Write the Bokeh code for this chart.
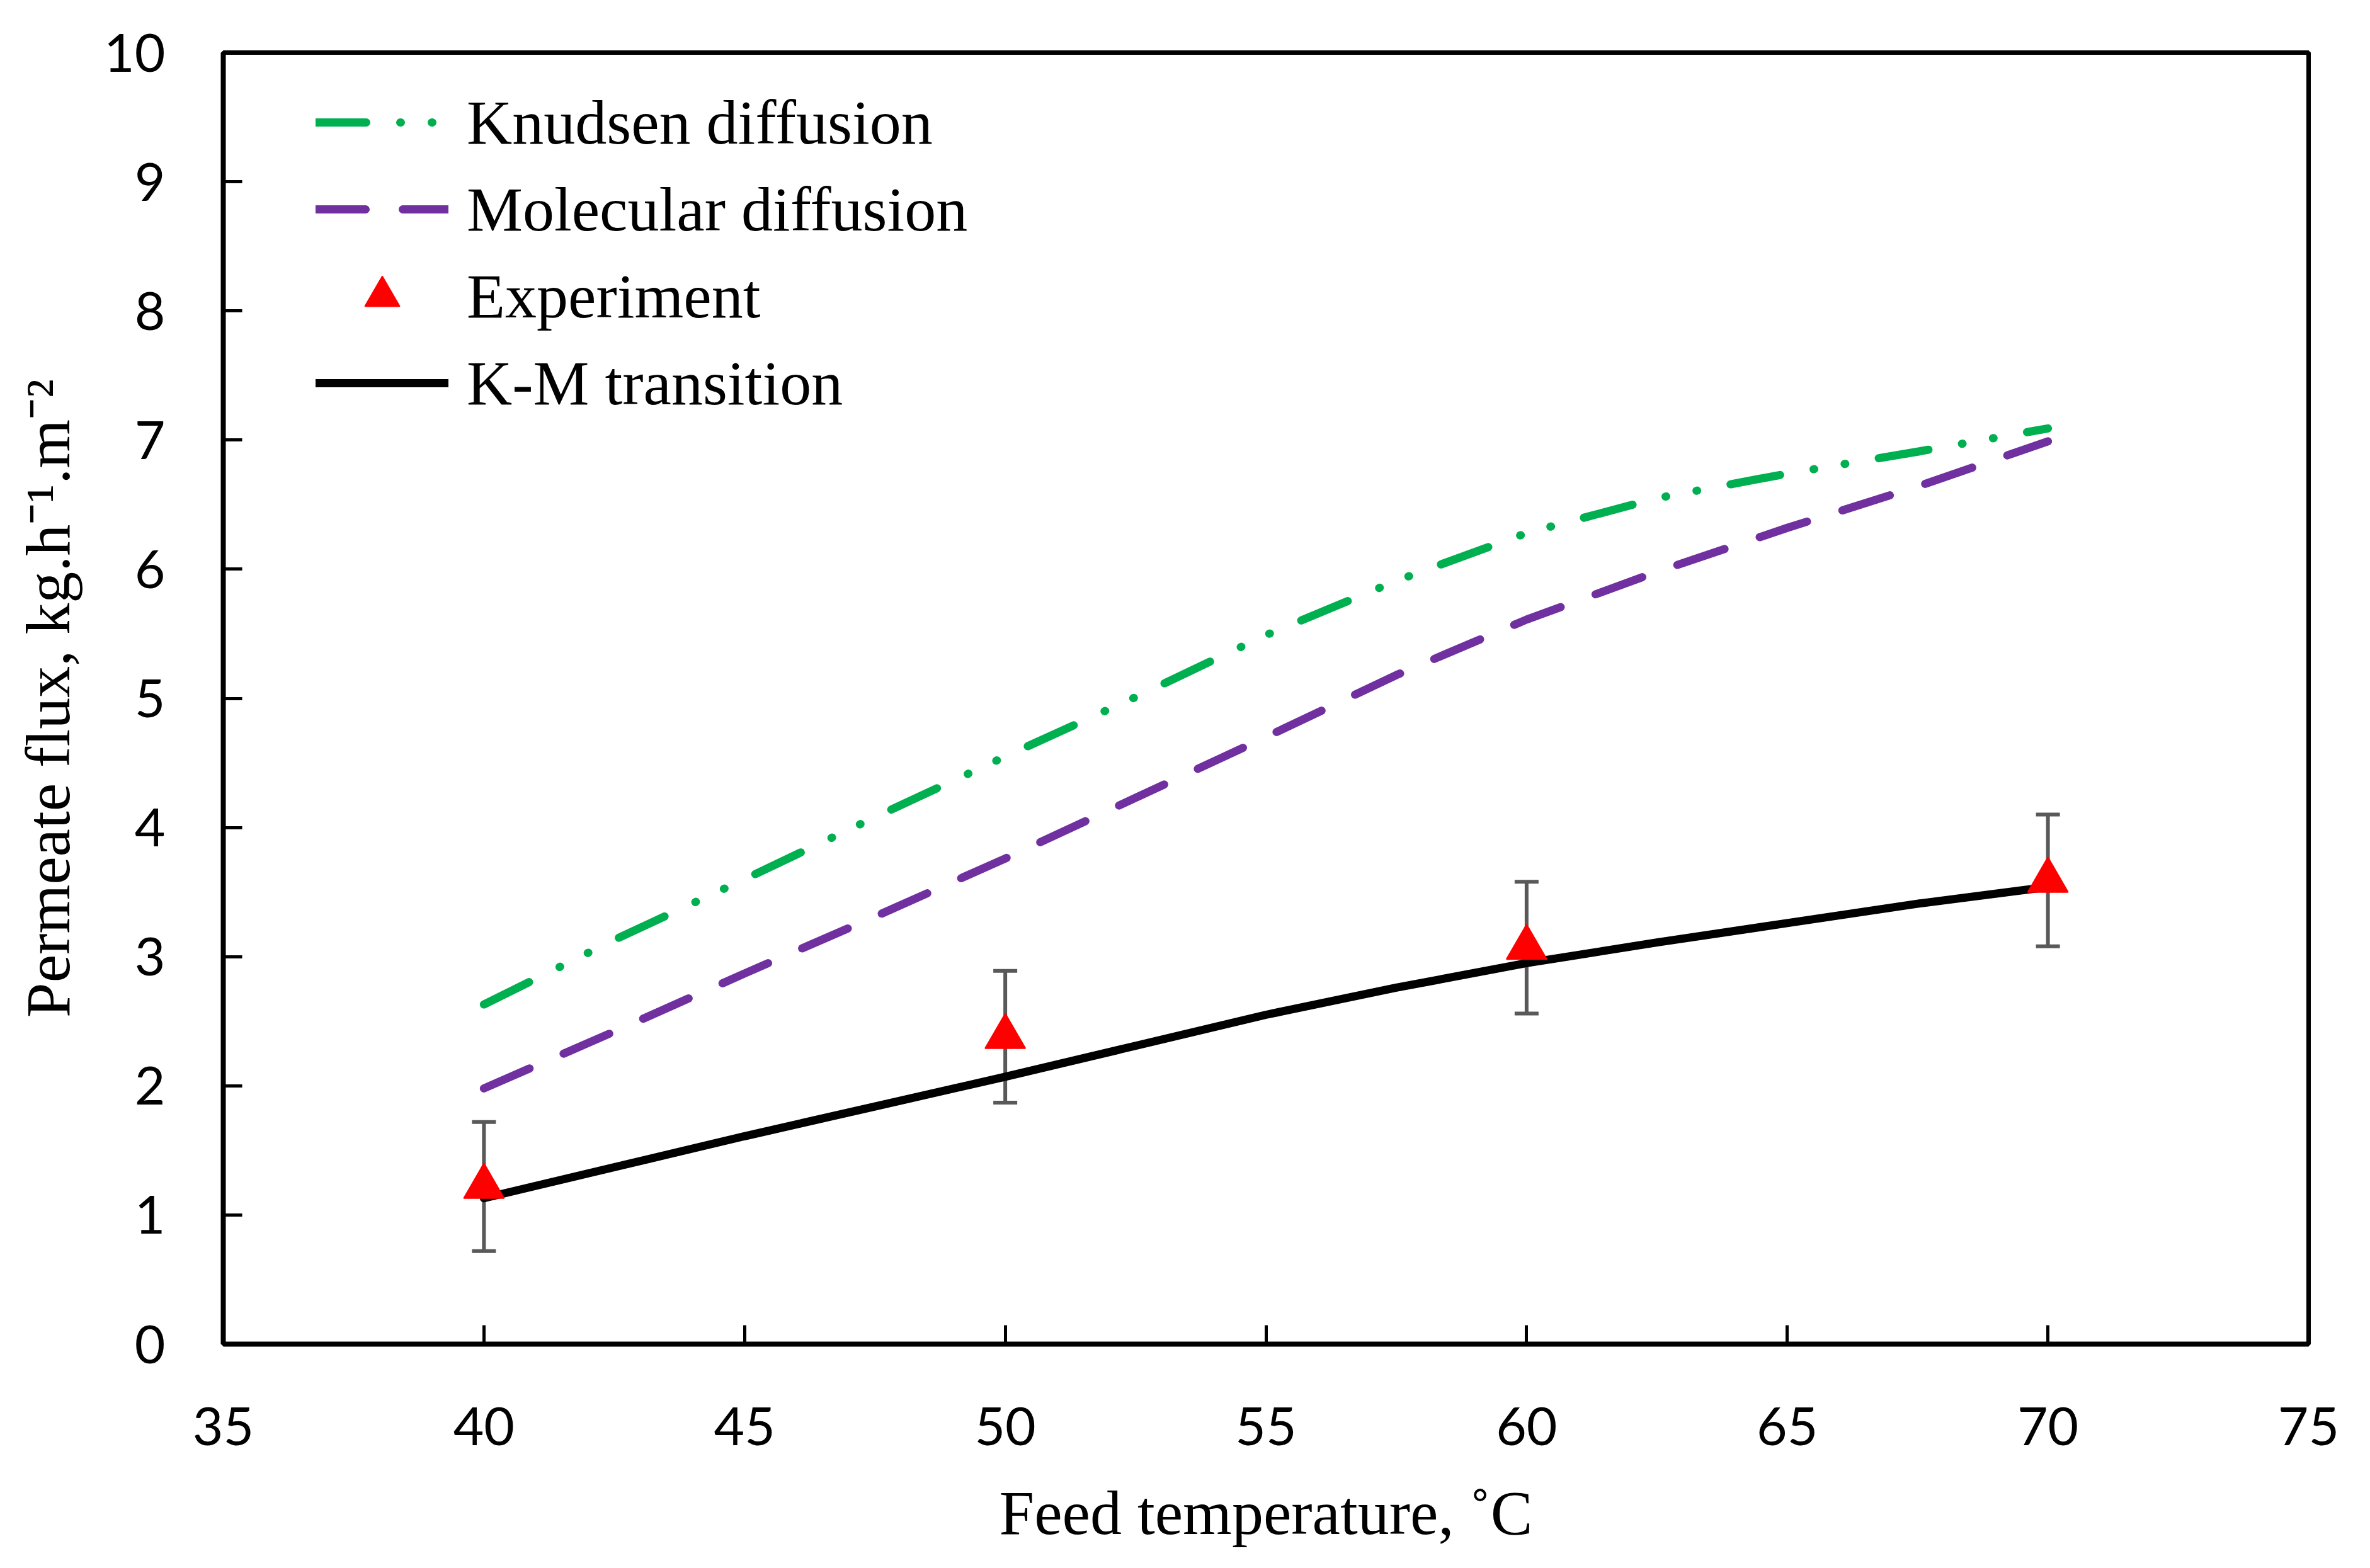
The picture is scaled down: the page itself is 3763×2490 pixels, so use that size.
from bokeh.embed import file_html
from bokeh.models import (ColumnDataSource, FixedTicker, Legend, LegendItem,
                          Range1d, TeeHead, Whisker)
from bokeh.plotting import figure
from bokeh.resources import INLINE

# Feed temperature (deg C) at which the model curves were read
temperature = [40, 42.5, 45, 47.5, 50, 52.5, 55, 57.5, 60, 62.5, 65, 67.5, 70]

knudsen = [2.63, 3.13, 3.60, 4.08, 4.55, 5.01, 5.49, 5.91, 6.28, 6.55, 6.74, 6.91, 7.09]
molecular = [1.98, 2.42, 2.87, 3.31, 3.76, 4.23, 4.70, 5.18, 5.61, 5.98, 6.32, 6.64, 6.99]
km_transition = [1.13, 1.37, 1.61, 1.84, 2.07, 2.31, 2.55, 2.76, 2.95, 3.11, 3.26, 3.41, 3.54]

# Experimental points with error bars
exp_temperature = [40, 50, 60, 70]
exp_flux = [1.22, 2.38, 3.07, 3.59]
exp_error = [0.50, 0.51, 0.51, 0.51]

x_ticks = [35, 40, 45, 50, 55, 60, 65, 70, 75]
y_ticks = [0, 1, 2, 3, 4, 5, 6, 7, 8, 9, 10]

GREEN = '#00B050'
PURPLE = '#7030A0'
RED = '#FF0000'
GREY = '#595959'

SERIF = 'Liberation Serif'
SANS = 'Lato'

p = figure(frame_width=3311, frame_height=2051, min_border_left=354, min_border_right=82,
           min_border_top=83, min_border_bottom=340, x_range=Range1d(35, 75), y_range=Range1d(0, 10),
           output_backend="svg", toolbar_location=None, tools=[])

p.xgrid.visible = False
p.ygrid.visible = False
p.outline_line_color = 'black'
p.outline_line_width = 7
p.background_fill_color = 'white'
p.border_fill_color = 'white'

# Axes -------------------------------------------------------------
for ax in (p.xaxis[0], p.yaxis[0]):
    ax.axis_line_width = 8
    ax.axis_line_color = 'black'
    ax.major_tick_in = 30
    ax.major_tick_out = 0
    ax.major_tick_line_width = 5
    ax.major_tick_line_color = 'black'
    ax.minor_tick_line_color = None
    ax.major_label_text_font = SANS
    ax.major_label_text_font_size = '84px'
    ax.major_label_text_color = 'black'
    ax.axis_label_text_font = SERIF
    ax.axis_label_text_font_size = '100px'
    ax.axis_label_text_font_style = 'normal'
    ax.axis_label_text_color = 'black'

p.xaxis.ticker = FixedTicker(ticks=x_ticks)
p.yaxis.ticker = FixedTicker(ticks=y_ticks)
p.xaxis.major_label_standoff = 100
p.yaxis.major_label_standoff = 92
p.xaxis.axis_label = 'Feed temperature, \u02daC'
p.yaxis.axis_label = 'Permeate flux, kg.h\u207b\u00b9.m\u207b\u00b2'
p.xaxis.axis_label_standoff = 49
p.yaxis.axis_label_standoff = 30

# Error bars -------------------------------------------------------
err_src = ColumnDataSource(data=dict(
    x=exp_temperature,
    upper=[f + e for f, e in zip(exp_flux, exp_error)],
    lower=[f - e for f, e in zip(exp_flux, exp_error)],
))
whisker = Whisker(source=err_src, base='x', upper='upper', lower='lower', dimension='height',
                  line_color=GREY, line_width=6, level='underlay',
                  upper_head=TeeHead(size=38, line_color=GREY, line_width=6),
                  lower_head=TeeHead(size=38, line_color=GREY, line_width=6))
p.add_layout(whisker)

# Curves -----------------------------------------------------------
r_knudsen = p.line(temperature, knudsen, line_color=GREEN, line_width=13, line_cap='round',
                   line_dash='80 54 1 49 1 54')
r_molecular = p.line(temperature, molecular, line_color=PURPLE, line_width=13, line_cap='round',
                     line_dash='79 59')
r_km = p.line(temperature, km_transition, line_color='black', line_width=13, line_cap='round')
r_exp = p.scatter(exp_temperature, exp_flux, marker='triangle', size=64, fill_color=RED,
                  line_color=RED, line_width=2)

# legend entries are 138px apart, 42px below the top of the frame
legend = Legend(items=[
    LegendItem(label='Knudsen diffusion', renderers=[r_knudsen]),
    LegendItem(label='Molecular diffusion', renderers=[r_molecular]),
    LegendItem(label='Experiment', renderers=[r_exp]),
    LegendItem(label='K-M transition', renderers=[r_km]),
], location=(147, 1457))
legend.label_text_font = SERIF
legend.label_text_font_size = '100px'
legend.label_text_color = 'black'
legend.glyph_width = 211
legend.glyph_height = 138
legend.label_height = 138
legend.spacing = 0
legend.padding = 0
legend.margin = 0
legend.label_standoff = 29
legend.border_line_color = None
legend.background_fill_alpha = 0
p.add_layout(legend)

open("out.html", "w").write(file_html(p, INLINE))
